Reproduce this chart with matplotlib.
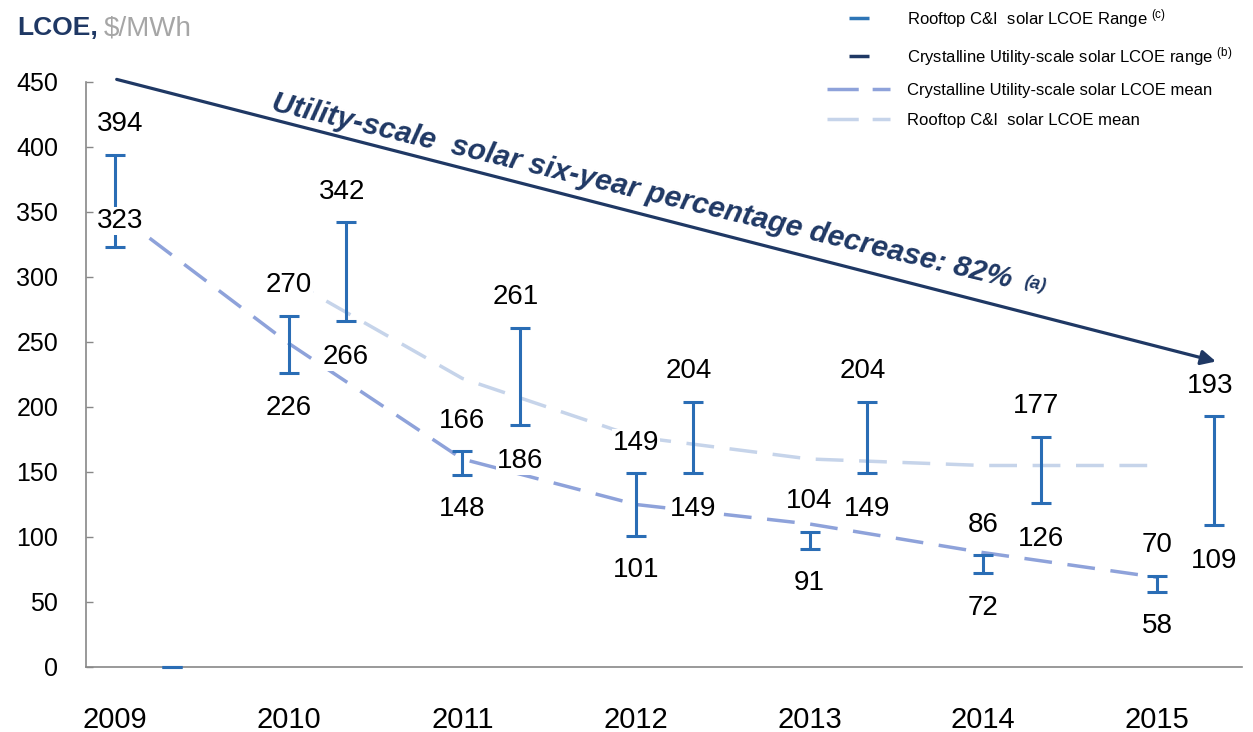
import matplotlib
matplotlib.use('Agg')
import matplotlib.pyplot as plt
from matplotlib.lines import Line2D

plt.rcParams['font.family'] = ['Liberation Sans', 'DejaVu Sans']
plt.rcParams['mathtext.fontset'] = 'custom'
plt.rcParams['mathtext.rm'] = 'Liberation Sans'
plt.rcParams['mathtext.it'] = 'Liberation Sans:italic'

# data
years = [2009, 2010, 2011, 2012, 2013, 2014, 2015]
utility_low = [323, 226, 148, 101, 91, 72, 58]
utility_high = [394, 270, 166, 149, 104, 86, 70]
rooftop_low = [0, 266, 186, 149, 149, 126, 109]
rooftop_high = [0, 342, 261, 204, 204, 177, 193]
utility_mean = [350, 249, 160, 125, 110, 88, 69]
rooftop_mean_years = [2010, 2011, 2012, 2013, 2014, 2015]
rooftop_mean = [298, 222, 177, 160, 155, 155]

bar_color = '#2a6db5'
navy = '#1f3864'
util_mean_color = '#8ea2da'
roof_mean_color = '#c6d4ea'
roof_offset = 0.33

fig = plt.figure(figsize=(12.53, 7.32), dpi=100)
ax = fig.add_axes([0.0686, 0.0888, 0.9226, 0.7992])

# mean lines
ax.plot(years, utility_mean, color=util_mean_color, lw=2.5, dashes=(8, 4.5), zorder=2)
ax.plot(rooftop_mean_years, rooftop_mean, color=roof_mean_color, lw=2.5, dashes=(8, 4.5), zorder=2)

# range bars
for i, y in enumerate(years):
    lo, hi = utility_low[i], utility_high[i]
    ax.errorbar([y], [(lo + hi) / 2], yerr=[[(hi - lo) / 2], [(hi - lo) / 2]], fmt='none',
                ecolor=bar_color, elinewidth=2.2, capsize=7, capthick=2.2, zorder=3)
    rx = y + roof_offset
    rlo, rhi = rooftop_low[i], rooftop_high[i]
    ax.errorbar([rx], [(rlo + rhi) / 2], yerr=[[(rhi - rlo) / 2], [(rhi - rlo) / 2]], fmt='none',
                ecolor=bar_color, elinewidth=2.2, capsize=7, capthick=2.2, zorder=3, clip_on=False)

# value labels
lab = dict(textcoords='offset points', ha='center', va='center', fontsize=20, zorder=5,
           bbox=dict(facecolor='white', edgecolor='none', pad=0.5))
for i, y in enumerate(years):
    ax.annotate(str(utility_high[i]), (y, utility_high[i]), xytext=(4 if i == 0 else 0, 22), **lab)
    if i == 0:
        ax.annotate(str(utility_low[i]), (y, utility_low[i]), xytext=(4, 19), **lab)
    else:
        ax.annotate(str(utility_low[i]), (y, utility_low[i]), xytext=(0, -25), **lab)
    if rooftop_high[i] > 0:
        ax.annotate(str(rooftop_high[i]), (y + roof_offset, rooftop_high[i]), xytext=(-3, 22), **lab)
        ax.annotate(str(rooftop_low[i]), (y + roof_offset, rooftop_low[i]), xytext=(0, -26), **lab)

# trend arrow and text
ax.annotate('', xy=(2015.34, 235), xytext=(2009.01, 452),
            arrowprops=dict(arrowstyle='-|>', color=navy, lw=2.3, mutation_scale=22,
                            shrinkA=0, shrinkB=0), annotation_clip=False, zorder=4)
trend = ax.text(2009.894, 428, 'Utility-scale  solar six-year percentage decrease: 82%',
                rotation=-13.5, rotation_mode='anchor', ha='left', va='baseline',
                fontsize=21.5, fontweight='bold', fontstyle='italic', color=navy, zorder=4)
ax.annotate('(a)', xy=(1, 0), xycoords=trend, xytext=(5, 3), textcoords='offset points',
            rotation=-13.5, rotation_mode='anchor', ha='left', va='bottom',
            fontsize=13, fontweight='bold', fontstyle='italic', color=navy, zorder=4)

ax.set_xlim(2008.833, 2015.49)
ax.set_ylim(0, 450)
ax.set_yticks(range(0, 451, 50))
ax.set_xticks(years)
ax.set_xticklabels([str(y) for y in years])
ax.tick_params(axis='y', direction='in', length=5, width=1, color='#888888', labelsize=18, pad=20)
ax.tick_params(axis='x', length=0, labelsize=21, pad=28)
for s in ['top', 'right']:
    ax.spines[s].set_visible(False)
for s in ['left', 'bottom']:
    ax.spines[s].set_color('#888888')
    ax.spines[s].set_linewidth(1.2)

# title
fig.text(17 / 1253, 1 - 35 / 732, 'LCOE,', fontsize=19, fontweight='bold', color=navy, va='baseline')
fig.text(104 / 1253, 1 - 35 / 732, '$/MWh', fontsize=20, color='#a6a6a6', va='baseline')

# legend
handles = [
    Line2D([], [], color='#2e75b6', marker='_', markersize=14, markeredgewidth=2.5, linestyle='none'),
    Line2D([], [], color=navy, marker='_', markersize=14, markeredgewidth=2.5, linestyle='none'),
    Line2D([], [], color=util_mean_color, lw=2.5, dashes=(9, 4)),
    Line2D([], [], color=roof_mean_color, lw=2.5, dashes=(9, 4)),
]
labels = [
    r'Rooftop C&I  solar LCOE Range $^{\mathregular{(c)}}$',
    r'Crystalline Utility-scale solar LCOE range $^{\mathregular{(b)}}$',
    'Crystalline Utility-scale solar LCOE mean',
    'Rooftop C&I  solar LCOE mean',
]
fig.legend(handles, labels, loc='upper left', bbox_to_anchor=(827 / 1253, 1 - 7 / 732),
           frameon=False, fontsize=12, handlelength=3.8, handletextpad=1.0,
           labelspacing=0.9, borderpad=0, borderaxespad=0)

fig.savefig('out.png', dpi=100)
